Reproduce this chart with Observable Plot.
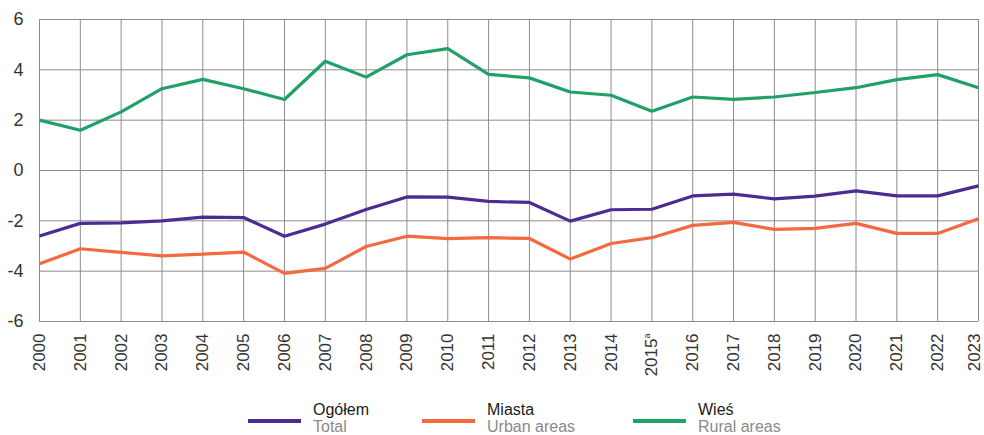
<!DOCTYPE html>
<html>
<head>
<meta charset="utf-8">
<script src="https://cdn.jsdelivr.net/npm/d3@7"></script>
<script src="https://cdn.jsdelivr.net/npm/@observablehq/plot@0.6"></script>
<style>
  html, body { margin: 0; padding: 0; background: #fff; }
  body { width: 984px; height: 435px; position: relative; overflow: hidden; font-family: "Liberation Sans", Arial, sans-serif; }
  #chart { position: absolute; left: 0; top: 0; }
  .leg { position: absolute; top: 400px; }
  .sw { position: absolute; top: 19px; width: 53px; height: 4px; }
  .lt { position: absolute; top: 1px; white-space: nowrap; font-size: 16px; line-height: 17px; }
  .lt .pl { color: #1a1a1a; }
  .lt .en { color: #8a8a8a; }
</style>
</head>
<body>
<div id="chart"></div>
<div id="legend"></div>
<script>
const years = [2000,2001,2002,2003,2004,2005,2006,2007,2008,2009,2010,2011,2012,2013,2014,2015,2016,2017,2018,2019,2020,2021,2022,2023];
const total = [-2.6,-2.1,-2.08,-2.0,-1.85,-1.87,-2.61,-2.13,-1.55,-1.05,-1.06,-1.23,-1.27,-2.01,-1.56,-1.54,-1.01,-0.94,-1.13,-1.02,-0.81,-1.01,-1.01,-0.61];
const urban = [-3.71,-3.11,-3.25,-3.39,-3.32,-3.24,-4.09,-3.89,-3.02,-2.61,-2.71,-2.67,-2.7,-3.52,-2.9,-2.67,-2.18,-2.06,-2.34,-2.3,-2.1,-2.5,-2.5,-1.92];
const rural = [2.0,1.6,2.33,3.25,3.62,3.25,2.82,4.34,3.71,4.6,4.84,3.82,3.68,3.12,2.99,2.35,2.92,2.83,2.92,3.1,3.29,3.61,3.81,3.29];
const yTicks = [-6,-4,-2,0,2,4,6];
const seriesPl = ["Ogółem","Miasta","Wieś"];
const seriesEn = ["Total","Urban areas","Rural areas"];
const colors = ["#4b2d91","#f4693f","#21a068"];
const footnoteYear = 2015;

const seriesValues = [total, urban, rural];
const data = [];
seriesValues.forEach((vals, si) => vals.forEach((v, i) => data.push({year: years[i], value: v, s: seriesPl[si]})));

const plot = Plot.plot({
  width: 984,
  height: 395,
  marginLeft: 39,
  marginRight: 6,
  marginTop: 19,
  marginBottom: 74,
  style: {fontFamily: "'Liberation Sans', Arial, sans-serif", fontSize: "17px", color: "#333", background: "#fff"},
  x: {type: "linear", domain: [2000, 2023]},
  y: {domain: [-6, 6]},
  color: {domain: seriesPl, range: colors},
  marks: [
    Plot.gridX(years, {stroke: "#8c8c8c", strokeOpacity: 1, strokeWidth: 1}),
    Plot.gridY(yTicks, {stroke: "#8c8c8c", strokeOpacity: 1, strokeWidth: 1}),
    Plot.axisY(yTicks, {tickSize: 0, tickPadding: 16, label: null, fontSize: 18, tickFormat: d => d}),
    Plot.axisX(years, {tickSize: 0, tickPadding: 12, tickRotate: -90, label: null, fontSize: 17, tickFormat: d => String(d)}),
    Plot.line(data, {x: "year", y: "value", z: "s", stroke: "s", strokeWidth: 3.2, strokeLinejoin: "miter", strokeLinecap: "butt"})
  ]
});
document.getElementById("chart").appendChild(plot);

// superscript footnote marker on 2015; nudge last label inside the edge
plot.querySelectorAll("text").forEach(t => {
  if (t.textContent === String(footnoteYear)) {
    const ts = document.createElementNS("http://www.w3.org/2000/svg", "tspan");
    ts.textContent = "a";
    ts.setAttribute("font-size", "9");
    ts.setAttribute("dy", "-7");
    t.appendChild(ts);
  }
  if (t.textContent === String(years[years.length - 1])) {
    t.setAttribute("y", "0.1em");
    t.removeAttribute("dy");
  }
});

// legend
const legendX = [248, 422, 633];
const legend = document.getElementById("legend");
seriesPl.forEach((name, i) => {
  const d = document.createElement("div");
  d.className = "leg";
  d.style.left = legendX[i] + "px";
  d.innerHTML = `<div class="sw" style="left:0;background:${colors[i]}"></div>
    <div class="lt" style="left:65px"><div class="pl">${name}</div><div class="en">${seriesEn[i]}</div></div>`;
  legend.appendChild(d);
});
</script>
</body>
</html>
